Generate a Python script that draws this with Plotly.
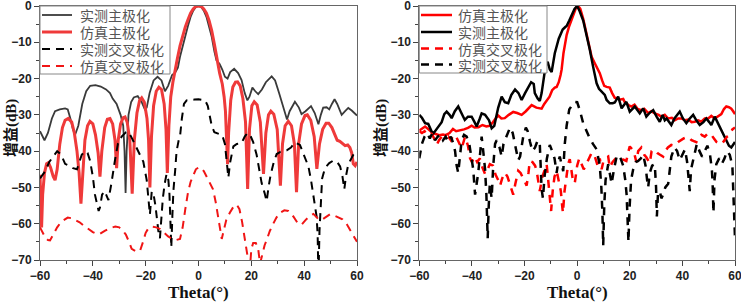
import plotly.graph_objects as go

# ---------------- Left panel data ----------------
L_mco_theta = [-60, -59, -58.3, -57, -55.5, -54.3, -52.5, -50.5, -49.5, -48.5, -47.5, -46.7, -45.5, -44, -42.5, -41, -39, -37, -35, -33.5, -32.5, -31, -29.5, -28.5, -28, -27.6, -27.2, -26.5, -25.5, -24.5, -23, -21.5, -20.3, -19.6, -18.5, -17, -15.5, -14, -12.7, -11.5, -10, -8.9, -7.8, -7, -6, -5, -4, -3, -2, -1, 0, 1, 2, 3, 4, 5, 6, 6.8, 8, 9, 10, 11, 12, 13.5, 15, 16.3, 17.5, 18.5, 19.3, 20.4, 21.5, 22.6, 24, 25.5, 27.7, 29, 30.5, 32, 33.5, 34.5, 36.5, 38, 39, 40.5, 42.6, 44, 45.4, 46.3, 47.2, 48.5, 49.5, 50.5, 51.5, 52.5, 54.2, 55.5, 56.7, 58, 59.2, 60]
L_mco_db = [-34.5, -36, -37, -35, -31, -29, -28.5, -28.2, -28.5, -31, -34, -35.5, -33, -27, -23.5, -22, -21.8, -22.2, -23, -24, -25.5, -27, -30, -33, -40, -51.5, -40, -30, -26.5, -25.2, -24.8, -26.5, -28.5, -28, -24, -20.5, -19.5, -20.5, -23.5, -22, -19, -18.4, -17, -14, -11, -8, -5.5, -3, -1.3, -0.3, 0, -0.3, -1.3, -3, -5.5, -8.5, -12.5, -15, -16, -17.5, -19.5, -20, -18.2, -17.3, -18.5, -20.4, -24, -26, -25, -22.5, -23.5, -24.3, -23, -21, -19.4, -20.5, -24, -28, -31.3, -29, -26.4, -28, -29.8, -29, -27.6, -29.5, -32.6, -30, -28, -27.9, -28.5, -27, -25.7, -27, -30, -29, -28.1, -28.8, -29.8, -30.2]

L_sco_theta = [-60, -59.7, -59.4, -59, -58.3, -57.5, -56.8, -56, -55, -54.3, -53.5, -52.5, -51.5, -50.5, -49.3, -48, -47, -46, -45.2, -44.5, -43.8, -43, -42, -41.1, -40, -39, -38, -37.3, -36.6, -35.5, -34.5, -33.5, -32.5, -31.6, -31, -30.4, -29.5, -28.5, -27.8, -27, -26, -25.1, -24.3, -23.3, -22.3, -21.5, -20.5, -19.5, -18.9, -18.4, -17.8, -17, -16, -15, -14, -13, -12.3, -11.8, -11.2, -10.5, -9.7, -8.9, -8, -7, -6, -5, -4, -3, -2, -1, 0, 1, 2, 3, 4, 5, 6, 7, 8, 9, 9.7, 10.2, 10.6, 11, 11.4, 12.2, 13, 14, 14.8, 15.8, 16.8, 17.8, 18.6, 19.3, 20.2, 21.1, 22.2, 23.4, 24.6, 25.5, 26.5, 27.4, 28.5, 29.8, 31, 31.8, 32.8, 34, 35.2, 36.3, 37.1, 37.9, 39, 40.3, 41.2, 42.5, 43.8, 44.8, 45.8, 47, 48.3, 49.3, 50.5, 51.5, 52.5, 53.5, 54.5, 55.5, 56.5, 57.3, 58, 58.6, 59.3, 60]
L_sco_db = [-46.5, -55, -61, -52, -46, -43.5, -43.2, -44.5, -47, -48, -45, -38, -33.5, -31.5, -31, -32, -35, -40, -46, -54.5, -45, -37, -33, -31.8, -32.5, -35.5, -40.5, -47, -40, -33.5, -31.2, -31, -32.5, -37, -44.7, -37, -32.5, -30.8, -30.6, -32, -37, -51.7, -37, -29.5, -26, -25.3, -26.5, -31, -37, -50, -36, -27.5, -23.5, -22.4, -23, -27, -34, -46, -33, -25, -21, -17.5, -14.5, -11, -8, -5.8, -3.8, -2, -0.8, -0.1, 0, -0.1, -0.8, -2, -4, -6.8, -10.5, -15, -18.5, -21.5, -25, -29, -35, -43.6, -35, -26, -22.3, -21, -20.9, -22, -25.5, -32, -50.4, -34, -27.5, -26.4, -27.3, -32, -46.3, -35, -30, -29, -29.8, -34, -49.5, -38, -33, -31.8, -33, -38, -51.3, -38, -32.5, -30.2, -30, -31.5, -36, -44.9, -38, -34, -32.3, -32.3, -33.5, -35.5, -37, -37.3, -38, -38.5, -38.3, -39, -40.5, -43.5, -44, -43]

L_mx_theta = [-60, -58, -56.5, -55, -53.5, -52, -50.5, -49, -47.5, -46, -45, -44.2, -43, -42, -41.1, -40, -39.2, -38.6, -37.8, -37.3, -36.5, -35.5, -34.8, -34.1, -33, -32.2, -31.6, -30.5, -29.1, -27.5, -26.6, -25.5, -24, -22.5, -20.9, -19.6, -18.9, -18.4, -17.7, -17, -16.3, -15.8, -15.2, -14.6, -14.1, -13.5, -12.8, -12.1, -11.4, -11, -10.6, -10.3, -9.9, -9.5, -8.8, -8.3, -7.5, -7, -6.3, -5.5, -4.5, -3, -1.5, 0, 1.5, 2.5, 3.5, 4.3, 5, 6, 7.5, 9, 10, 10.7, 11.3, 12, 13.2, 14.5, 16.3, 17.5, 18.5, 19.5, 20.7, 22, 23.3, 23.9, 25, 25.8, 26.5, 27.3, 28.5, 29.6, 31, 32.5, 33.4, 35, 36.5, 38.4, 40, 41.6, 42.6, 43.5, 44.3, 44.7, 45.1, 45.4, 45.8, 46.3, 46.8, 47.9, 49.5, 51, 52.5, 53.6, 54.5, 55.2, 55.8, 56.7, 57.7, 58.6, 60]
L_mx_db = [-47.5, -45.5, -43, -41.5, -40, -41, -43.5, -44, -44.7, -45, -43, -41, -40, -40.5, -42.5, -47, -52, -54, -56.5, -55.5, -52, -51, -52.5, -53.5, -49, -45, -42.4, -38, -36, -34.8, -34.6, -36, -38.3, -40.5, -42.9, -48, -54, -57.5, -51.1, -52, -55, -58.2, -62, -64, -58, -53, -49, -46.3, -48, -51.8, -60, -66.5, -58, -50.9, -45, -40, -37, -36, -31, -27, -26, -26, -25.8, -25.7, -25.8, -26, -27.5, -30.5, -33, -34.8, -35.3, -35.6, -38, -42.4, -47.3, -43, -38.7, -38, -37.8, -36, -35, -35.5, -37.5, -41, -47, -48.8, -51.5, -53.8, -50, -46.5, -43, -40.8, -40.2, -40, -39.8, -39, -37.6, -38.3, -41, -44.2, -48, -52.5, -56, -58, -63, -75, -62, -52, -47.5, -44.6, -43.3, -42.6, -43, -44.2, -47, -50.5, -47, -43.6, -42, -41, -39.5]

L_sx_theta = [-60, -59, -58, -57, -56.2, -55, -53.5, -52, -50.5, -49.5, -48, -46.5, -45, -43.5, -41.7, -40, -38.5, -37.3, -35.5, -33.5, -31.5, -30, -28.5, -27.5, -26.3, -25.3, -23.5, -22.1, -21, -20, -19, -17.5, -16, -14.5, -13, -11.5, -10, -8.5, -7, -6, -5, -4, -3, -2, -1, 0, 1, 2, 3, 4, 5.5, 6.5, 7.5, 8.3, 8.8, 9.5, 10.5, 11.9, 13.5, 14.5, 15.5, 16.5, 17.5, 18.3, 18.9, 19.5, 20, 20.7, 21.7, 22.6, 23.3, 24, 25, 25.8, 27, 28.3, 29.5, 30.8, 32.5, 34, 35.9, 37.5, 39, 40.5, 42, 43.5, 45.3, 46.5, 48, 49.8, 51.5, 53, 54.5, 56.1, 57.5, 59.2, 60]
L_sx_db = [-61, -62.5, -63.8, -64.5, -64.6, -63, -61, -59.5, -58.7, -58.3, -58.5, -59, -59.6, -60.5, -61.5, -62.3, -62.8, -62.8, -62, -61.2, -60.8, -61, -62, -63, -65, -66.9, -67.7, -67.4, -65, -62.5, -61.3, -60.8, -61, -61.5, -62.5, -63.5, -64.2, -64.5, -64.2, -61, -56, -51.5, -48.5, -46.5, -45, -44.5, -44.6, -45.5, -47, -48.5, -50.5, -54, -59, -62.5, -64.2, -62, -59, -56.9, -55, -54.8, -56, -59.5, -64, -68.5, -70.5, -72, -67, -65.3, -65.3, -67, -71, -69, -66, -64.5, -62, -60, -58.3, -57, -56.3, -56.5, -58, -59.8, -60.3, -59, -57.9, -57.3, -58.7, -59, -58.3, -57.4, -57.8, -58.2, -58.8, -60.1, -62, -64.2, -65]

# ---------------- Right panel data ----------------
R_sco_theta = [-60, -59, -57.8, -56.5, -55.3, -54, -52.5, -51, -50, -48.5, -47.2, -46, -44.5, -43, -41.5, -40.1, -39, -37.5, -36, -34.5, -33.3, -32.3, -31, -30, -28.8, -27.5, -26, -24.3, -22.8, -21.1, -19.5, -18, -17.3, -15.5, -13.5, -12.5, -11.6, -10.5, -9.5, -8.5, -7.8, -7, -6.3, -5.9, -5.2, -4.5, -4, -3, -2, -1.2, -0.4, 0.4, 1.2, 2.3, 3.2, 4.2, 5.5, 6.7, 7.8, 8.6, 9.5, 10.3, 11.2, 12.4, 13.3, 14.3, 15.3, 16.2, 17.5, 18.1, 19.5, 20.6, 21.8, 23, 24.4, 25.5, 27, 28.2, 29.5, 31, 32, 33.3, 34.6, 36, 37.1, 38.4, 39.6, 41, 42.2, 43.5, 44.7, 46, 47.2, 48.5, 49.8, 51, 52.3, 53.5, 54.8, 55.8, 56.7, 57.7, 58.6, 59.3, 60]
R_sco_db = [-34.3, -33.8, -33.2, -34, -34.8, -35.2, -35.6, -35.4, -35.6, -35, -33.9, -34.5, -34.3, -34, -33.6, -33, -33.5, -33.4, -32.8, -33.2, -33, -32.3, -31, -30.2, -31, -30.9, -30, -29.2, -29.5, -30, -29, -27.8, -27.3, -28, -28.3, -27, -26.2, -25, -23.2, -22.5, -22.3, -21, -19, -17.5, -13, -9.5, -8, -5.5, -3.5, -1.8, -0.4, 0, -0.8, -3.5, -6.5, -10.3, -14, -15.8, -17.5, -18.5, -20.5, -22, -22.3, -22.5, -24, -25.3, -25.4, -25.8, -25.6, -26.5, -27.3, -27.7, -27.2, -28.4, -28.7, -28.3, -29.5, -29, -29.6, -30, -30.5, -30, -31, -30.8, -31.5, -31, -31, -31.5, -31.3, -32, -31.9, -31.5, -31.9, -31, -31, -30.3, -31, -30.5, -29.8, -28.4, -27.7, -27.9, -28.3, -29, -29.8]

R_mco_theta = [-60, -59, -57.8, -56.6, -55.3, -54.7, -53.5, -52.5, -51.5, -50.5, -49.6, -48.5, -47.7, -46.5, -45.2, -44, -42.7, -41.5, -40.1, -39, -38.2, -37, -36.3, -35, -33.5, -32.5, -31.5, -30, -28.7, -27.5, -26.2, -25, -23.6, -22.3, -21.1, -19.8, -18.6, -17.5, -16.5, -16.1, -15, -14.2, -13.5, -12.9, -12, -11.2, -10.4, -9.7, -8.5, -7, -5.5, -4.5, -4, -3, -2, -1, 0, 1, 2.3, 3.5, 4.8, 6, 7.4, 8.3, 9.3, 10.5, 11.2, 12.4, 13.5, 14.3, 15.6, 16.9, 18.7, 20, 21.9, 23.8, 25.1, 26.3, 27.5, 28.9, 30.2, 31.4, 32.5, 33.3, 34, 35.8, 37, 39, 40.2, 41.5, 42.8, 44.1, 45.3, 46.6, 48, 49.1, 50.2, 51, 52.3, 53.3, 54.2, 55.5, 56.7, 57.7, 58.6, 59.3, 60]
R_mco_db = [-30, -30.8, -32.3, -32.5, -34.6, -35.2, -34, -33, -32, -29.8, -29.1, -30, -30.9, -29, -27.7, -29.5, -31.4, -30.5, -30.5, -32, -33.2, -31, -29.6, -30, -31.5, -33.7, -33, -28, -25, -26.5, -26.8, -24.5, -23, -24, -25.9, -24, -22.2, -21, -21.5, -24, -25.5, -26.2, -24, -20.4, -16.5, -15.4, -17.5, -18.2, -13, -9, -6.5, -5.8, -5.5, -4, -2.5, -0.8, 0, -1.5, -4, -7.5, -12, -16.5, -21.3, -22.8, -23.6, -24.5, -25.9, -26.8, -26.8, -26.6, -25, -28.2, -26.4, -29.1, -27.7, -29.6, -28.2, -30.5, -29.5, -28.7, -30.5, -31.9, -30, -31.5, -31, -32.8, -31, -29.1, -31, -32.3, -31, -30, -31.5, -32.8, -32, -31, -32, -32.8, -30.5, -32, -33.7, -35.5, -37, -38.5, -39, -38.3, -37.5]

R_sx_theta = [-60, -59, -58, -57, -56, -55.3, -54, -53.4, -52.5, -51.5, -50, -49, -48, -47, -46, -45, -43.9, -43, -42.6, -41.5, -40.7, -40, -39, -38, -37, -36, -35, -34, -33.2, -32, -31, -30, -29.3, -28.5, -27.5, -26.5, -25.3, -24.3, -23.5, -22.4, -21.5, -20.5, -19.2, -18.5, -18, -17, -16, -15.4, -14.8, -14.2, -13.2, -12.4, -11.6, -11, -10.4, -9.9, -9.3, -8.6, -7.8, -7, -6.2, -5.7, -5.4, -4.8, -4, -3.4, -2.8, -2.2, -1.5, -0.9, 0, 0.8, 1.5, 2.5, 2.9, 3.8, 4.8, 5.5, 6.5, 7.2, 8, 8.6, 9.3, 9.9, 10.8, 11.8, 12.4, 13.5, 15, 16.5, 18.1, 18.7, 19.5, 20, 21.5, 22.5, 23.2, 24.4, 25.5, 26.3, 27.6, 28.3, 29.5, 30.5, 31.5, 32.7, 33.5, 34.5, 35.8, 37, 38.4, 39.5, 40.5, 42.2, 43.5, 45.3, 46.2, 47.2, 48.5, 49.8, 51, 52, 53, 54, 55, 56, 57, 58, 59, 60]
R_sx_db = [-34.5, -35, -34.5, -35.5, -35, -35.2, -37, -38.3, -37, -36, -36.3, -36, -37, -35.5, -36, -37.5, -39.2, -37, -36, -38.5, -42, -43, -41.5, -43, -42, -44.5, -46.3, -45, -43.6, -44, -46.5, -48, -49.5, -47.5, -45.9, -47, -50, -52, -49, -45.4, -46, -47.5, -49.5, -46, -42.7, -43, -44, -45.4, -48, -51, -47, -45, -43.6, -48, -52, -56.5, -51, -47, -45.4, -48, -51, -55, -57, -51, -46, -43.5, -42.2, -45, -48.6, -48.8, -44, -42, -43.5, -45, -44.5, -43, -41.5, -40.5, -41, -42.5, -44.5, -42, -45, -43, -42, -41.5, -44.5, -43, -41.7, -42, -42.5, -42.7, -40, -38.7, -40, -43, -40, -39, -41, -41.7, -43.3, -40, -39.6, -40.5, -41, -41.5, -40, -39, -38.3, -38.5, -37.5, -37, -36.5, -36, -37, -37.5, -36, -35.5, -36, -35, -35.5, -36.5, -37.5, -38, -38, -37, -36, -35.5, -34, -33.5]

R_mx_theta = [-60, -59, -58, -57, -56, -55, -54, -53, -52, -51, -50, -49, -48, -47, -46.4, -45.8, -45.2, -44.5, -43.9, -43, -42, -41, -40, -39.5, -38.8, -38.2, -37.6, -36.8, -36.3, -35.7, -35, -34.5, -34.2, -34, -33.6, -33.2, -32.5, -31.9, -31.2, -30.6, -29.5, -28.7, -28, -27, -26.2, -25.5, -24.5, -23.7, -22.4, -21.7, -20.5, -19.5, -18.8, -17.9, -17, -16, -15, -14.2, -13.8, -13.5, -13, -12.4, -11.5, -10.8, -10.4, -9.5, -8.6, -7.8, -7.2, -6.6, -5.9, -5.3, -4.7, -4, -3, -2, -1, 0, 1, 2.3, 3.5, 4.8, 6, 7.4, 8.6, 9.2, 9.6, 9.9, 10.3, 10.8, 11.8, 12.5, 13.1, 14, 15, 15.6, 16.5, 17.5, 18.3, 18.8, 19.2, 19.5, 19.9, 20.5, 21.3, 22.3, 23.2, 24.2, 25.1, 26, 26.6, 27, 27.6, 28.5, 29.5, 30, 30.3, 30.7, 31.4, 32, 32.7, 33.5, 34.6, 35.3, 35.8, 37, 38, 39, 40, 41, 41.8, 42.4, 42.8, 43.3, 44.5, 45.5, 46.5, 47.5, 48.5, 49.5, 50.5, 51.2, 51.5, 51.7, 51.8, 52.2, 52.9, 54, 55, 56, 57, 58, 59, 59.3, 59.6, 60]
R_mx_db = [-42, -38, -36, -35, -36.5, -35, -37, -36, -35.5, -37, -36, -37.5, -36, -38, -40, -44, -46, -40, -37, -35.5, -36, -38, -42, -45, -52, -49, -46, -40, -36, -40, -45, -52, -60, -64, -55, -49, -53, -44, -38, -37, -39, -41.5, -38, -36, -35, -33.5, -35, -38, -42.5, -41.5, -36, -33.5, -34.5, -37.5, -40, -39, -37, -38, -44, -50.5, -53, -47, -42, -39, -38.3, -40, -42, -46, -43, -41.5, -44, -45.5, -38, -33, -28.5, -27.5, -26.4, -26.5, -28.7, -32.3, -34.5, -36.5, -38, -39.5, -44, -50, -57, -66, -55, -48, -43.6, -46, -49, -45, -41.5, -41, -42, -44, -48, -52, -58, -65, -56, -48, -45, -43, -42.7, -42, -41, -44, -48, -50, -46, -44, -43.6, -50, -58, -52, -51, -53, -52, -50, -49, -44, -41.5, -39, -40, -42.5, -41, -39.5, -43, -48, -51, -45, -41, -38, -40, -41.5, -40, -38.5, -41, -45, -49, -53, -57, -48, -43.6, -42, -43.5, -42, -40, -41, -44, -50, -58, -64]

# ---------------- Legend entries (order as in the reference) ----------------
L_legend = [("实测主极化", "#3a3a3a", 1.8, "solid"),
            ("仿真主极化", "#ef3a3a", 3, "solid"),
            ("实测交叉极化", "#000000", 2, "dash"),
            ("仿真交叉极化", "#f01515", 2, "dash")]
R_legend = [("仿真主极化", "#ff0000", 2.5, "solid"),
            ("实测主极化", "#000000", 2.5, "solid"),
            ("仿真交叉极化", "#ff0000", 2.5, "dash"),
            ("实测交叉极化", "#000000", 2.5, "dash")]

Y_RANGE = [-70, 0]
X_RANGE = [-60, 60]

W, H = 741, 302
ML, MR, MT, MB = 40, 6, 6, 42
PW, PH = W - ML - MR, H - MT - MB

def px2x(px):
    return (px - ML) / PW

def py2y(py):
    return 1 - (py - MT) / PH

fig = go.Figure()

def add(x, y, name, color, width, dash, xa, ya):
    fig.add_trace(go.Scatter(x=x, y=y, mode="lines", name=name, showlegend=False,
                             line=dict(color=color, width=width, dash=dash),
                             xaxis=xa, yaxis=ya))

add(L_mco_theta, L_mco_db, L_legend[0][0], "#3a3a3a", 1.8, "solid", "x", "y")
add(L_sco_theta, L_sco_db, L_legend[1][0], "#ef3a3a", 3, "solid", "x", "y")
add(L_mx_theta, L_mx_db, L_legend[2][0], "#000000", 2, "8px,6px", "x", "y")
add(L_sx_theta, L_sx_db, L_legend[3][0], "#f01515", 2, "8px,6px", "x", "y")

add(R_sco_theta, R_sco_db, R_legend[0][0], "#ff0000", 2.5, "solid", "x2", "y2")
add(R_mco_theta, R_mco_db, R_legend[1][0], "#000000", 2.5, "solid", "x2", "y2")
add(R_sx_theta, R_sx_db, R_legend[2][0], "#ff0000", 2.5, "8px,7px", "x2", "y2")
add(R_mx_theta, R_mx_db, R_legend[3][0], "#000000", 2.5, "8px,7px", "x2", "y2")

tickfont = dict(family="Liberation Sans, Arial", size=12, color="#222", weight="bold")
frame = "#666666"

def xax(domain, anchor):
    return dict(domain=domain, range=X_RANGE, anchor=anchor, tick0=-60, dtick=20,
                ticks="outside", ticklen=5, tickwidth=1, tickcolor="#444",
                minor=dict(ticks="outside", ticklen=3, dtick=10, tick0=-60, tickcolor="#444"),
                showline=True, linecolor=frame, linewidth=1, mirror=True,
                showgrid=False, zeroline=False, tickfont=tickfont, automargin=False,
                ticklabeloverflow="allow")

def yax(anchor):
    return dict(domain=[0, 1], range=Y_RANGE, anchor=anchor, tick0=-70, dtick=10,
                ticks="outside", ticklen=5, tickwidth=1, tickcolor="#444",
                minor=dict(ticks="outside", ticklen=3, dtick=5, tick0=-70, tickcolor="#444"),
                showline=True, linecolor=frame, linewidth=1, mirror=True,
                showgrid=False, zeroline=False, tickfont=tickfont, automargin=False,
                ticklabeloverflow="allow")

def xtop(over, anchor):
    return dict(overlaying=over, anchor=anchor, side="top", range=X_RANGE, tick0=-60, dtick=10,
                ticks="inside", ticklen=4, tickcolor="#444", showticklabels=False,
                showline=False, showgrid=False, zeroline=False, automargin=False)

def yright(over, anchor):
    return dict(overlaying=over, anchor=anchor, side="right", range=Y_RANGE, tick0=-70, dtick=5,
                ticks="inside", ticklen=4, tickcolor="#444", showticklabels=False,
                showline=False, showgrid=False, zeroline=False, automargin=False)

fig.update_layout(
    width=W, height=H,
    margin=dict(l=ML, r=MR, t=MT, b=MB, autoexpand=False),
    paper_bgcolor="white", plot_bgcolor="white",
    xaxis=xax([0, px2x(357)], "y"),
    yaxis=yax("x"),
    xaxis2=xax([px2x(419.3), 1.0], "y2"),
    yaxis2=yax("x2"),
    xaxis3=xtop("x", "y"),
    yaxis3=yright("y", "x"),
    xaxis4=xtop("x2", "y2"),
    yaxis4=yright("y2", "x2"),
    showlegend=False,
)

# ---- custom legends (box, line samples, real text) ----
legfont = dict(family="Noto Sans CJK SC", size=14, color="#555555")

def legend_box(x0, x1, y0, y1, rows, entries, s0, s1, tx):
    fig.add_shape(type="rect", xref="paper", yref="paper",
                  x0=px2x(x0), x1=px2x(x1), y0=py2y(y1), y1=py2y(y0),
                  line=dict(color="#888", width=1), fillcolor="white", layer="above")
    for (name, color, width, dash), ry in zip(entries, rows):
        fig.add_shape(type="line", xref="paper", yref="paper",
                      x0=px2x(s0), x1=px2x(s1), y0=py2y(ry), y1=py2y(ry),
                      line=dict(color=color, width=width, dash="8px,6px" if dash == "dash" else "solid"),
                      layer="above")
        fig.add_annotation(text=name, x=px2x(tx), y=py2y(ry), xref="paper", yref="paper",
                           xanchor="left", yanchor="middle", showarrow=False, font=legfont)

legend_box(40, 170, 6, 74, [15, 32, 49, 66], L_legend, 42, 72, 78)
legend_box(419.3, 547, 6, 73, [15, 32, 48.5, 64.5], R_legend, 421, 452, 456)

titlefont_y = dict(family="Liberation Serif, Noto Sans CJK SC", size=15, color="#111", weight="bold")
titlefont_x = dict(family="Liberation Serif, Times New Roman", size=17, color="#111", weight="bold")

for px in (11, 381):
    fig.add_annotation(text="增益(dB)", x=px2x(px), y=py2y(128), xref="paper", yref="paper",
                       textangle=-90, showarrow=False, font=titlefont_y,
                       xanchor="center", yanchor="middle")
for px in (198.5, 577.3):
    fig.add_annotation(text="Theta(°)", x=px2x(px), y=py2y(292), xref="paper", yref="paper",
                       showarrow=False, font=titlefont_x, xanchor="center", yanchor="middle")

fig.write_html("out.html", config={"displayModeBar": False},
               post_script="document.body.style.margin='0px';document.body.style.overflow='hidden';")
